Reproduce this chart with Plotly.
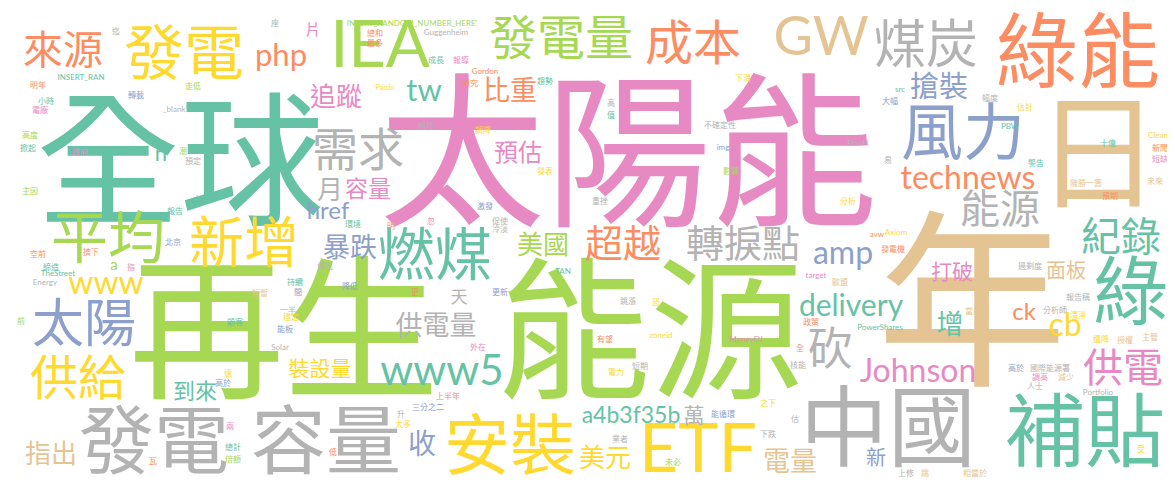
import re
import plotly.graph_objects as go

# Set2 palette used by the word cloud
palette = {"teal": "#66c2a5", "orange": "#fc8d62", "blue": "#8da0cb", "pink": "#e78ac3",
           "green": "#a6d854", "yellow": "#ffd92f", "tan": "#e5c494", "grey": "#b3b3b3"}

# big / medium words (x, y = centre of the word in the 1175x482 picture)
words = ["太陽能", "再生", "能源", "全球", "年", "日", "綠能", "中國", "補貼", "綠", "紀錄", "供電",
         "ETF", "安裝", "發電", "容量", "發電", "來源", "IEA", "php", "片", "發電量", "成本",
         "GW", "煤炭", "搶裝", "風力", "technews", "能源", "需求", "追蹤", "tw", "比重", "預估",
         "月", "容量", "href", "n", "平均", "新增", "暴跌", "燃煤", "美國", "超越", "轉捩點",
         "amp", "打破", "面板", "delivery", "砍", "增", "ck", "cb", "Johnson", "新", "電量",
         "美元", "a4b3f35b", "萬", "www5", "供電量", "天", "收", "太陽", "www", "供給", "指出",
         "裝設量", "到來", "a"]
word_x = [620, 276, 642, 172, 964, 1090, 1070, 880, 1077, 1123, 1113, 1115,
          690, 502, 146, 318, 176, 55, 372, 273, 305, 553, 685,
          813, 918, 931, 955, 960, 992, 350, 328, 416, 502, 510,
          322, 360, 320, 153, 100, 236, 342, 427, 535, 615, 735,
          835, 944, 1058, 843, 822, 942, 1016, 1057, 910, 868, 782,
          597, 623, 686, 434, 428, 451, 414, 76, 98, 70, 43,
          312, 187, 106]
word_y = [152, 328, 330, 160, 302, 150, 47, 423, 426, 287, 230, 361,
          447, 440, 436, 436, 48, 43, 43, 50, 22, 32, 37,
          33, 38, 80, 127, 173, 202, 143, 90, 85, 83, 145,
          183, 182, 205, 147, 232, 236, 240, 249, 238, 237, 237,
          248, 264, 264, 300, 343, 317, 306, 320, 366, 451, 454,
          451, 409, 408, 366, 318, 290, 437, 317, 278, 372, 447,
          361, 384, 258]
word_size = [166, 155, 153, 144, 190, 125, 82, 88, 80, 75, 40, 40,
             68, 66, 75, 75, 60, 40, 65, 31, 15, 48, 48,
             54, 52, 29, 62, 32, 40, 46, 26, 31, 27, 24,
             26, 23, 24, 22, 57, 55, 27, 57, 26, 38, 38,
             32, 21, 20, 30, 45, 27, 24, 32, 32, 20, 27,
             26, 23, 21, 42, 27, 17, 28, 52, 32, 48, 26,
             21, 22, 15]
word_color = ["pink", "green", "green", "teal", "tan", "tan", "orange", "grey", "teal", "teal", "teal", "pink",
              "yellow", "yellow", "grey", "grey", "yellow", "orange", "green", "orange", "pink", "green", "orange",
              "tan", "grey", "blue", "blue", "orange", "grey", "grey", "pink", "teal", "orange", "pink",
              "grey", "pink", "blue", "teal", "green", "yellow", "blue", "teal", "green", "orange", "grey",
              "blue", "pink", "tan", "teal", "grey", "teal", "orange", "yellow", "pink", "blue", "tan",
              "yellow", "teal", "grey", "teal", "grey", "grey", "blue", "blue", "yellow", "yellow", "tan",
              "yellow", "teal", "green"]

# small words
small_words = ["迄", "座", "INSERT_RAN", "INSERT_RANDOM_NUMBER_HERE'", "Guggenheim", "明年", "走低", "轉載",
               "小時", "電廠", "_blank'", "高度", "掀起", "政府", "潮", "預定", "主因", "本文", "報告",
               "環境", "北京", "明", "Paolo", "總和", "最多", "成長", "報導", "Gordon", "研究", "趨勢",
               "下滑", "高", "值", "相符", "調降", "不確定性", "img", "發表", "影響", "重挫", "激發",
               "促使", "冷淡", "忽", "src", "大幅", "幅度", "估計", "PBW", "Frankl", "十億", "Clean",
               "新聞", "短缺", "易", "警告", "未來", "險勝一籌", "預期", "分析", "avw", "Axiom", "發電機",
               "空前", "擠下", "締造", "TheStreet", "Energy", "指", "傳出", "持續", "間", "降低", "短暫",
               "一半", "穩定", "顧客", "能板", "前", "Solar", "速", "高於", "升", "太多", "兩", "總計",
               "倍額", "瓦", "低", "TAN", "更", "更新", "跳漲", "恐", "zoneid", "有望", "MoneyDJ", "外在",
               "短期", "電力", "上半年", "之下", "三分之二", "能循環", "下跌", "業者", "未必", "過剩度",
               "target", "歐盟", "報告稱", "分析師", "清淨", "當局", "政策", "PowerShares", "遭降", "授權",
               "主管", "全", "核能", "高於", "國際能源署", "調高", "減少", "人士", "Portfolio", "估", "受",
               "上修", "跳", "相當於"]
small_x = [108, 267, 73, 404, 438, 30, 185, 128,
           38, 32, 167, 22, 20, 72, 175, 185, 22, 193, 167,
           345, 165, 383, 377, 367, 367, 428, 453, 477, 462, 537,
           735, 603, 603, 418, 475, 712, 715, 537, 723, 592, 477,
           492, 492, 423, 892, 882, 982, 1017, 1002, 850, 1100, 1150,
           1152, 1152, 880, 1028, 1147, 1078, 1102, 840, 869, 888, 885,
           30, 83, 43, 50, 37, 123, 317, 287, 290, 342, 252,
           280, 283, 227, 277, 13, 272, 220, 215, 393, 395, 222, 225,
           225, 145, 325, 555, 407, 492, 620, 648, 653, 597, 738, 470,
           632, 608, 440, 760, 420, 715, 760, 612, 665, 1022,
           808, 832, 1070, 1047, 1070, 965, 803, 872, 1093, 1117,
           1142, 792, 790, 1008, 1042, 1032, 1058, 1027, 1090, 787, 1133,
           898, 917, 967]
small_y = [23, 15, 70, 16, 25, 77, 78, 87,
           93, 102, 102, 127, 140, 144, 143, 153, 183, 191, 203,
           216, 234, 218, 80, 25, 35, 52, 52, 64, 75, 73,
           70, 95, 107, 118, 122, 117, 140, 163, 163, 193, 198,
           213, 221, 213, 82, 93, 90, 99, 119, 136, 135, 128,
           140, 151, 152, 155, 173, 175, 188, 193, 227, 225, 241,
           246, 244, 259, 266, 275, 259, 258, 274, 284, 278, 285,
           302, 309, 314, 321, 313, 340, 365, 375, 406, 416, 418, 439,
           451, 453, 444, 264, 284, 284, 293, 294, 328, 331, 332, 339,
           358, 364, 388, 395, 399, 406, 426, 431, 454, 258,
           268, 274, 289, 302, 307, 303, 314, 320, 331, 332,
           329, 340, 357, 360, 360, 369, 369, 378, 385, 411, 441,
           465, 465, 465]
small_size = 8
small_color = ["grey", "grey", "teal", "green", "grey", "orange", "green", "blue",
               "teal", "pink", "grey", "green", "teal", "pink", "green", "grey", "green", "teal", "teal",
               "teal", "blue", "orange", "yellow", "orange", "orange", "teal", "pink", "orange", "orange", "teal",
               "yellow", "grey", "teal", "grey", "yellow", "grey", "blue", "yellow", "green", "grey", "blue",
               "grey", "grey", "pink", "teal", "blue", "grey", "yellow", "teal", "grey", "teal", "yellow",
               "orange", "pink", "grey", "teal", "tan", "tan", "orange", "yellow", "orange", "yellow", "orange",
               "orange", "orange", "teal", "teal", "grey", "pink", "grey", "teal", "blue", "blue", "tan",
               "grey", "yellow", "teal", "blue", "green", "grey", "yellow", "blue", "grey", "yellow", "pink", "teal",
               "green", "orange", "orange", "teal", "orange", "blue", "grey", "yellow", "yellow", "orange", "pink", "pink",
               "grey", "yellow", "orange", "yellow", "blue", "blue", "grey", "grey", "green", "grey",
               "pink", "tan", "grey", "grey", "yellow", "tan", "orange", "teal", "yellow", "tan",
               "tan", "orange", "grey", "blue", "grey", "pink", "tan", "grey", "grey", "grey", "yellow",
               "grey", "tan", "tan"]

font_family = "Lato, Noto Sans CJK TC, sans-serif"

all_words = words + small_words
all_x = word_x + small_x
all_y = word_y + small_y
all_size = word_size + [small_size] * len(small_words)
all_color = [palette[c] for c in word_color + small_color]

# CJK glyphs sit a little above the text anchor in plotly, nudge them down
cjk = re.compile(r"[\u4e00-\u9fff]")
plot_y = [y + 0.07 * s if cjk.search(w) else y for w, y, s in zip(all_words, all_y, all_size)]

fig = go.Figure()
fig.add_trace(go.Scatter(
    x=all_x,
    y=plot_y,
    text=all_words,
    mode="text",
    textposition="middle center",
    textfont=dict(family=font_family, size=all_size, color=all_color),
    hoverinfo="text",
))

fig.update_layout(
    width=1175, height=482,
    margin=dict(l=0, r=0, t=0, b=0),
    paper_bgcolor="white", plot_bgcolor="white",
    showlegend=False,
    xaxis=dict(range=[0, 1175], visible=False, fixedrange=True),
    yaxis=dict(range=[482, 0], visible=False, fixedrange=True),
)

fig.write_html("out.html")
